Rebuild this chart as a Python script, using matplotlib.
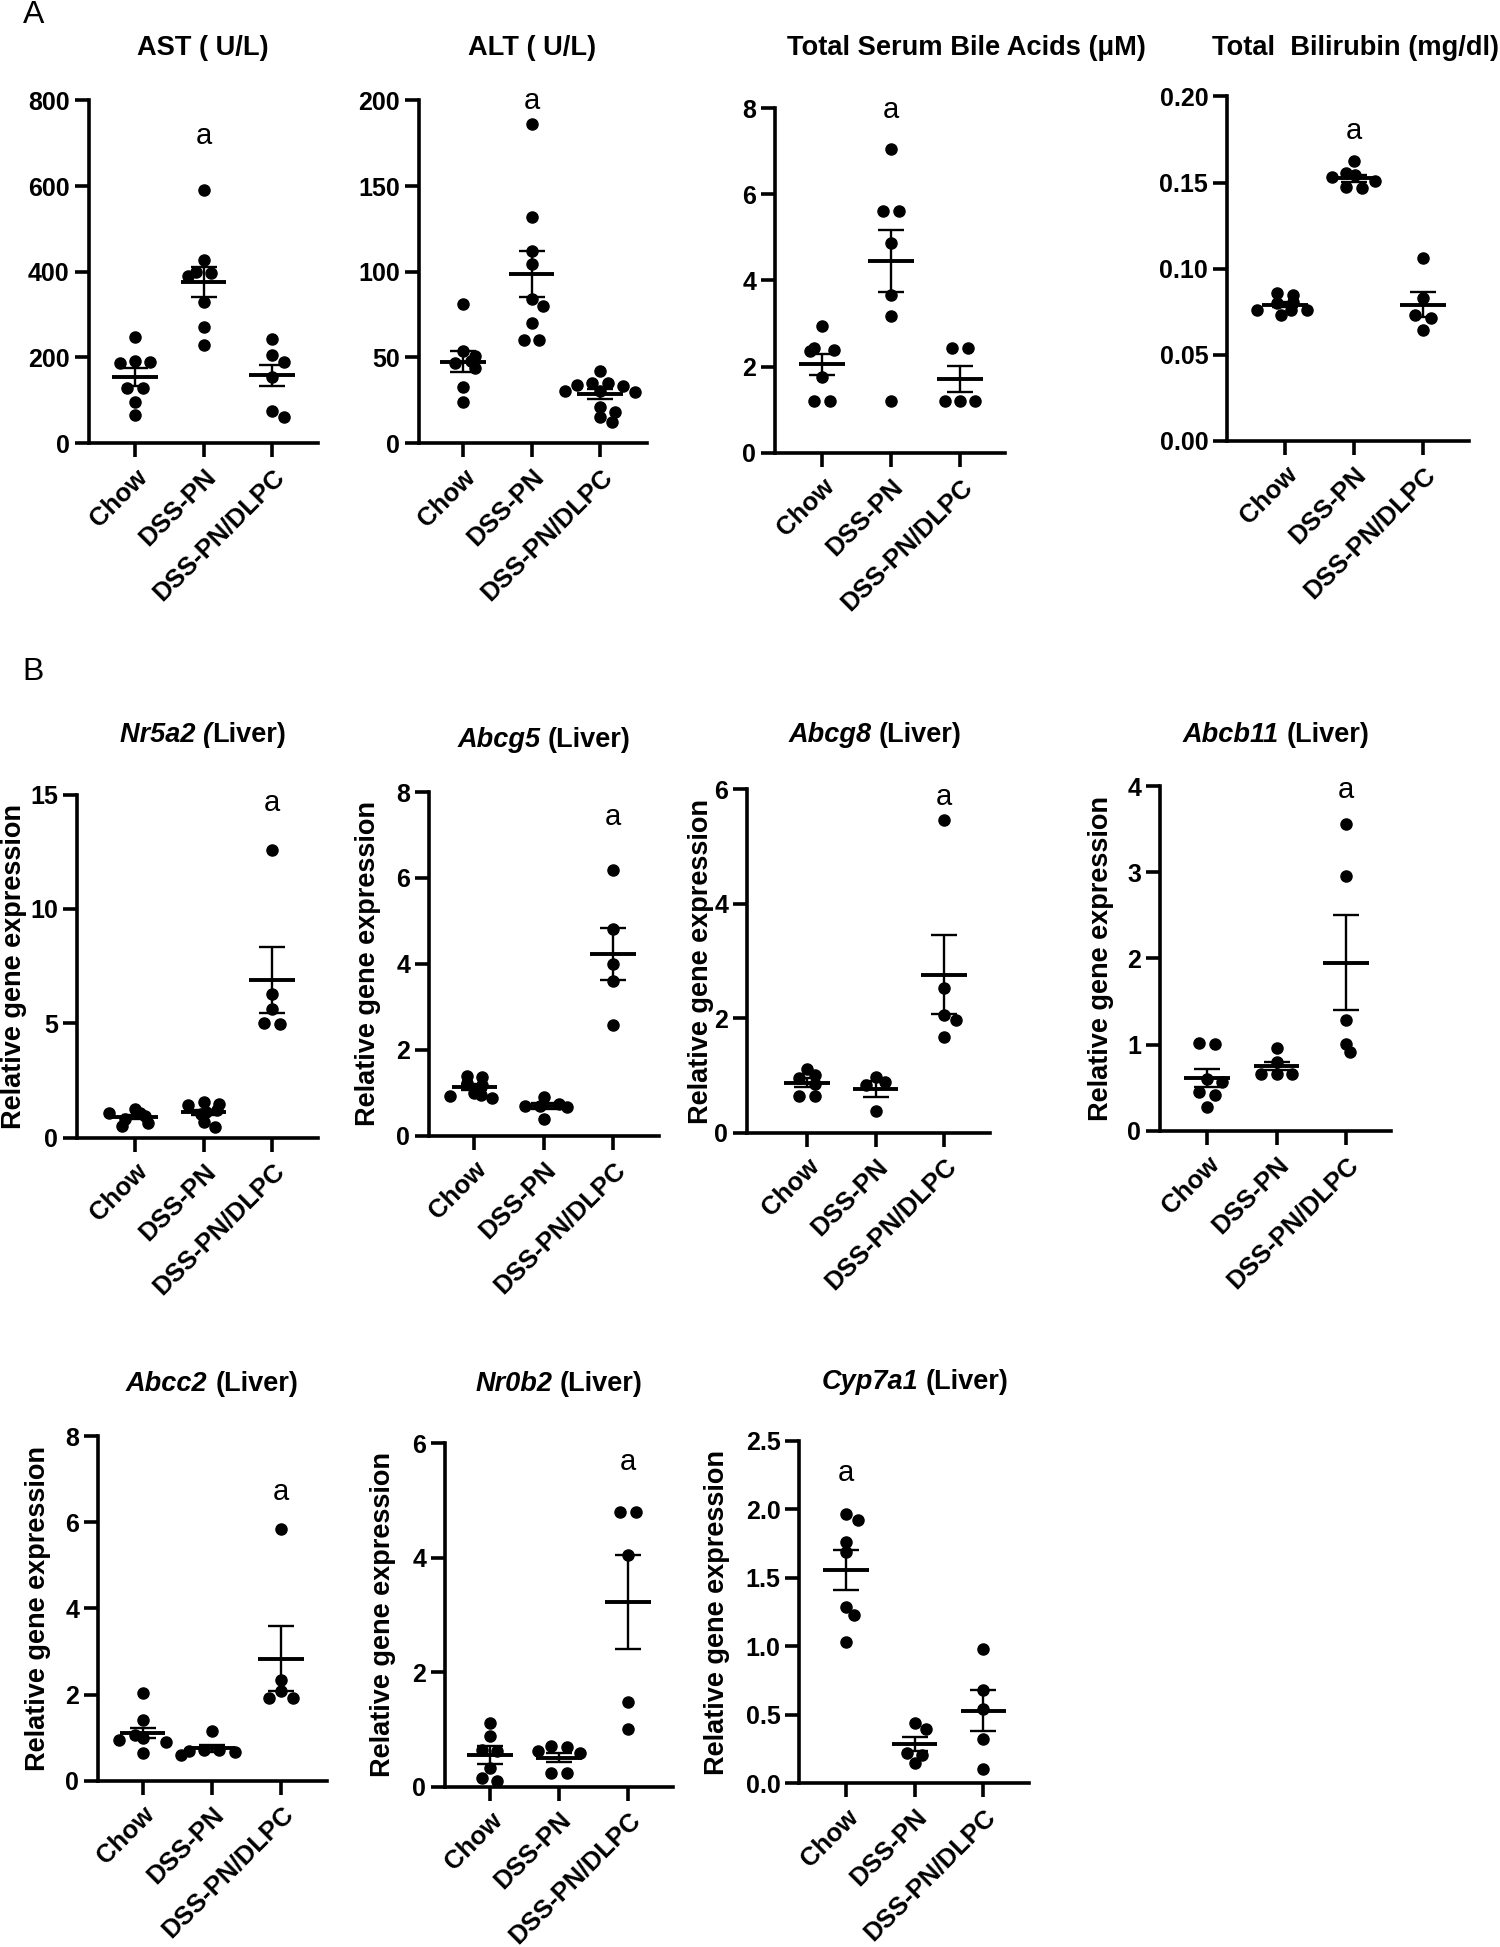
import numpy as np
import matplotlib
matplotlib.use('Agg')
import matplotlib.pyplot as plt

plt.rcParams['font.family'] = ['Liberation Sans', 'DejaVu Sans']

W, H = 1500, 1947
groups = ['Chow', 'DSS-PN', 'DSS-PN/DLPC']

# ---- panel A : serum chemistry ----
ast_pts = [[248, 192, 190, 188, 128, 128, 96, 65],
           [590, 427, 400, 398, 389, 329, 270, 228],
           [244, 205, 190, 154, 76, 61]]
ast_mean = [154, 376, 159]
ast_sem = [21, 34.5, 24.5]

alt_pts = [[81, 54, 51, 48, 47, 44, 33, 24],
           [186, 132, 112, 104.5, 84, 80, 70, 60, 60],
           [42.3, 35.3, 35.3, 34.1, 33.4, 30.6, 30.6, 30.0, 20.9, 18.4, 15.5, 12.5]]
alt_mean = [47.5, 98.7, 28.8]
alt_sem = [6.0, 13.5, 3.0]

tsba_pts = [[2.94, 2.43, 2.38, 2.35, 1.76, 1.21, 1.21],
            [7.06, 5.62, 5.62, 4.87, 3.67, 3.18, 1.21],
            [2.42, 2.42, 1.21, 1.21, 1.21]]
tsba_mean = [2.05, 4.46, 1.71]
tsba_sem = [0.25, 0.72, 0.30]

bili_pts = [[0.0861, 0.0847, 0.0808, 0.0799, 0.076, 0.076, 0.076, 0.0731],
            [0.1627, 0.1557, 0.1544, 0.1530, 0.1511, 0.1476, 0.1470],
            [0.106, 0.0828, 0.0731, 0.0712, 0.0644]]
bili_mean = [0.0791, 0.1525, 0.0791]
bili_sem = [0.0015, 0.0020, 0.0074]

# ---- panel B : liver gene expression ----
nr5a2_pts = [[1.24, 1.06, 1.06, 0.94, 0.80, 0.65, 0.51],
             [1.57, 1.47, 1.43, 1.21, 1.10, 1.05, 0.70, 0.45],
             [12.56, 6.29, 5.62, 4.99, 5.02]]
nr5a2_mean = [0.90, 1.10, 6.90]
nr5a2_sem = [0.10, 0.12, 1.45]

abcg5_pts = [[1.38, 1.36, 1.23, 1.17, 0.99, 0.94, 0.92, 0.87],
             [0.90, 0.74, 0.70, 0.68, 0.66, 0.38],
             [6.19, 4.81, 3.99, 3.61, 2.58]]
abcg5_mean = [1.14, 0.69, 4.23]
abcg5_sem = [0.07, 0.07, 0.61]

abcg8_pts = [[1.12, 1.00, 0.96, 0.85, 0.64, 0.64],
             [0.98, 0.89, 0.84, 0.37],
             [5.46, 2.52, 2.06, 1.97, 1.67]]
abcg8_mean = [0.87, 0.76, 2.76]
abcg8_sem = [0.08, 0.14, 0.69]

abcb11_pts = [[1.02, 1.01, 0.60, 0.56, 0.45, 0.42, 0.28],
              [0.96, 0.80, 0.66, 0.66, 0.66],
              [3.56, 2.96, 1.28, 1.01, 0.91]]
abcb11_mean = [0.61, 0.75, 1.95]
abcb11_sem = [0.105, 0.05, 0.55]

abcc2_pts = [[2.04, 1.40, 1.05, 0.98, 0.94, 0.89, 0.63],
             [1.16, 0.70, 0.70, 0.69, 0.67, 0.59],
             [5.85, 2.33, 2.08, 1.92, 1.92]]
abcc2_mean = [1.10, 0.75, 2.83]
abcc2_sem = [0.12, 0.08, 0.76]

nr0b2_pts = [[1.11, 0.89, 0.63, 0.62, 0.33, 0.14, 0.10],
             [0.70, 0.69, 0.62, 0.58, 0.24, 0.23],
             [4.80, 4.80, 4.05, 1.48, 1.00]]
nr0b2_mean = [0.55, 0.50, 3.23]
nr0b2_sem = [0.15, 0.08, 0.82]

cyp7a1_pts = [[1.97, 1.92, 1.76, 1.69, 1.29, 1.23, 1.03],
              [0.44, 0.40, 0.22, 0.21, 0.15],
              [0.98, 0.68, 0.54, 0.32, 0.106]]
cyp7a1_mean = [1.56, 0.287, 0.53]
cyp7a1_sem = [0.145, 0.052, 0.15]

# y ticks (max, step, format)
yticks = {
    'ast': (800, 200, '%d'), 'alt': (200, 50, '%d'), 'tsba': (8, 2, '%d'),
    'bili': (0.20, 0.05, '%.2f'), 'nr5a2': (15, 5, '%d'), 'abcg5': (8, 2, '%d'),
    'abcg8': (6, 2, '%d'), 'abcb11': (4, 1, '%d'), 'abcc2': (8, 2, '%d'),
    'nr0b2': (6, 2, '%d'), 'cyp7a1': (2.5, 0.5, '%.1f'),
}
# significance letter: (group index, baseline value)
sig = {
    'ast': (1, 699), 'alt': (1, 194.9), 'tsba': (1, 7.77), 'bili': (1, 0.1755),
    'nr5a2': (2, 14.28), 'abcg5': (2, 7.24), 'abcg8': (2, 5.72), 'abcb11': (2, 3.86),
    'abcc2': (2, 6.52), 'nr0b2': (2, 5.54), 'cyp7a1': (0, 2.21),
}

titles_a = {'ast': 'AST ( U/L)', 'alt': 'ALT ( U/L)',
            'tsba': 'Total Serum Bile Acids (\u03bcM)', 'bili': 'Total  Bilirubin (mg/dl)'}
titles_b = {'nr5a2': ('Nr5a2 (', 'Liver)', 0), 'abcg5': ('Abcg5', '(Liver)', 1),
            'abcg8': ('Abcg8', '(Liver)', 1), 'abcb11': ('Abcb11', '(Liver)', 1),
            'abcc2': ('Abcc2', '(Liver)', 1), 'nr0b2': ('Nr0b2', '(Liver)', 1),
            'cyp7a1': ('Cyp7a1', '(Liver)', 1)}

data = {
    'ast': (ast_pts, ast_mean, ast_sem), 'alt': (alt_pts, alt_mean, alt_sem),
    'tsba': (tsba_pts, tsba_mean, tsba_sem), 'bili': (bili_pts, bili_mean, bili_sem),
    'nr5a2': (nr5a2_pts, nr5a2_mean, nr5a2_sem), 'abcg5': (abcg5_pts, abcg5_mean, abcg5_sem),
    'abcg8': (abcg8_pts, abcg8_mean, abcg8_sem), 'abcb11': (abcb11_pts, abcb11_mean, abcb11_sem),
    'abcc2': (abcc2_pts, abcc2_mean, abcc2_sem), 'nr0b2': (nr0b2_pts, nr0b2_mean, nr0b2_sem),
    'cyp7a1': (cyp7a1_pts, cyp7a1_mean, cyp7a1_sem),
}

# layout in pixels: axis left, right, top, bottom, first tick x, tick spacing,
# title centre (x, y), ylabel x
layout = {
    'ast':    (88.5, 318, 100.3, 443.2, 135, 68.5, 203, 48, None),
    'alt':    (418.5, 647, 100.3, 443.2, 463, 68.5, 532, 48, None),
    'tsba':   (775, 1005, 108, 452.7, 822, 69, 966, 48, None),
    'bili':   (1227, 1469, 96.4, 440.9, 1285, 69, 1355, 48, None),
    'nr5a2':  (76.5, 318, 794.7, 1137.6, 135, 68.5, 203, 735, 14),
    'abcg5':  (429, 659, 792, 1135.7, 474.5, 69.25, 544, 740, 368),
    'abcg8':  (747, 989.5, 789.4, 1132.6, 807, 68.5, 875, 735, 701.5),
    'abcb11': (1160, 1391, 786.3, 1130.7, 1207, 69.5, 1276, 735, 1101),
    'abcc2':  (98, 326.7, 1436.2, 1780.6, 142.5, 69.25, 212, 1384, 38),
    'nr0b2':  (444.8, 673.4, 1443.3, 1786.5, 489.8, 69.1, 559, 1384, 382.6),
    'cyp7a1': (799.2, 1029.3, 1441, 1783.3, 846, 68.7, 915, 1382, 717),
}

LW = 2.6
DOT = 11.0  # marker diameter in px


def swarm(vals, ppu_y, d=DOT):
    # greedy scatter layout, points may overlap a little like in prism plots
    vals = np.asarray(vals, float)
    order = np.argsort(-vals)
    step = 0.35 * d
    cands = [0.0]
    for k in range(1, 30):
        cands += [k * step, -k * step]
    ax_x, ax_y = 1.25 * d, 0.8 * d
    placed = []
    offs = np.zeros(len(vals))
    for i in order:
        y = vals[i] * ppu_y
        for c in cands:
            if all(((c - px) / ax_x) ** 2 + ((y - py) / ax_y) ** 2 >= 1 for px, py in placed):
                break
        placed.append((c, y))
        offs[i] = c
    # centre rows of (almost) tied values
    ys = vals * ppu_y
    used = np.zeros(len(vals), bool)
    for i in order:
        if used[i]:
            continue
        row = [j for j in range(len(vals)) if abs(ys[j] - ys[i]) < 0.3 * d]
        for j in row:
            used[j] = True
        if len(row) > 1:
            offs[row] -= offs[row].mean()
    return offs


fig = plt.figure(figsize=(W / 100, H / 100), dpi=100)
rend = fig.canvas.get_renderer()


def fx(px):
    return px / W


def fy(py):
    return 1 - py / H


for key, (l, r, t, b, t0, sp, tx, ty, ylx) in layout.items():
    pts, mean, sem = data[key]
    ymax, ystep, fmt = yticks[key]
    ax = fig.add_axes([fx(l), fy(b), (r - l) / W, (b - t) / H])
    ax.set_xlim(-(t0 - l) / sp, 2 + (r - (t0 + 2 * sp)) / sp)
    ax.set_ylim(0, ymax)
    ppu_y = (b - t) / ymax
    for i, vals in enumerate(pts):
        offs = swarm(vals, ppu_y) / sp
        ax.plot(i + offs, vals, 'o', color='black', ms=8.0, mec='black',
                clip_on=False, zorder=3)
        ax.hlines(mean[i], i - 0.33, i + 0.33, color='black', lw=2.8, zorder=4)
        ax.errorbar(i, mean[i], yerr=sem[i], fmt='none', ecolor='black',
                    elinewidth=1.7, capsize=9.4, capthick=1.7, zorder=4)
    gi, ya = sig[key]
    ax.text(gi, ya, 'a', ha='center', va='baseline', fontsize=21, color='black')

    yt = np.arange(0, ymax + ystep / 2, ystep)
    ax.set_yticks(yt)
    ax.set_yticklabels([fmt % v for v in yt], fontsize=18, fontweight='bold')
    ax.set_xticks(range(3))
    ax.set_xticklabels(groups, rotation=45, ha='right', va='top',
                       rotation_mode='anchor', fontsize=18.5, fontweight='bold')
    ax.tick_params(axis='both', length=10, width=LW, color='black')
    ax.tick_params(axis='y', pad=3.5)
    ax.tick_params(axis='x', pad=5.5)
    for s in ['top', 'right']:
        ax.spines[s].set_visible(False)
    for s in ['left', 'bottom']:
        ax.spines[s].set_linewidth(LW)
        ax.spines[s].set_capstyle('projecting')

    if key in titles_a:
        fig.text(fx(tx), fy(ty), titles_a[key], ha='center', va='center',
                 fontsize=19.6, fontweight='bold')
    else:
        it, rest, gap = titles_b[key]
        fs = 19.5
        t1 = fig.text(0, fy(ty), it, va='center', fontsize=fs, fontweight='bold',
                      fontstyle='italic')
        t2 = fig.text(0, fy(ty), rest, va='center', fontsize=fs, fontweight='bold')
        w1 = t1.get_window_extent(rend).width
        w2 = t2.get_window_extent(rend).width
        g = gap * 0.278 * fs * 100 / 72
        x0 = tx - (w1 + g + w2) / 2
        t1.set_x(fx(x0))
        t2.set_x(fx(x0 + w1 + g))
        fig.text(fx(ylx), fy((t + b) / 2), 'Relative gene expression', rotation=90,
                 ha='center', va='center', fontsize=19.5, fontweight='bold')

fig.text(fx(33.5), fy(15.3), 'A', ha='center', va='center', fontsize=23)
fig.text(fx(33.5), fy(671.5), 'B', ha='center', va='center', fontsize=23)

fig.savefig('out.png', dpi=100)
